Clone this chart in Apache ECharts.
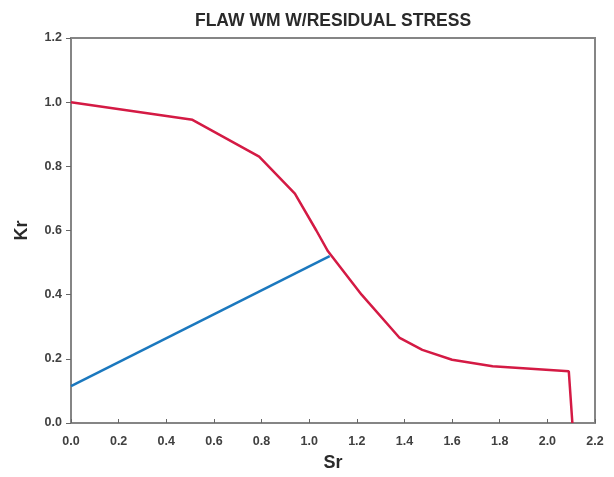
<!DOCTYPE html>
<html>
<head>
<meta charset="utf-8">
<script src="https://cdn.jsdelivr.net/npm/echarts@6/dist/echarts.min.js"></script>
<style>
    html, body { margin: 0; padding: 0; background: #fff; }
    #chart { width: 614px; height: 477px; }
</style>
</head>
<body>
<div id="chart"></div>
<script>
    // failure assessment curve (Sr, Kr)
    var curveSr = [0.0, 0.51, 0.79, 0.94, 1.03, 1.079, 1.22, 1.38, 1.475, 1.60, 1.77, 2.09, 2.105];
    var curveKr = [1.0, 0.945, 0.83, 0.715, 0.60, 0.535, 0.40, 0.265, 0.228, 0.197, 0.177, 0.161, 0.0];

    // load line
    var loadSr = [0.0, 1.086];
    var loadKr = [0.115, 0.52];

    var titleText = 'FLAW WM W/RESIDUAL STRESS';

    function pairs(xs, ys) {
        var out = [];
        xs.forEach(function (x, i) { out.push([x, ys[i]]); });
        return out;
    }

    var chart = echarts.init(document.getElementById('chart'));
    var axisFont = { color: '#404040', fontFamily: 'Liberation Sans', fontWeight: 'bold', fontSize: 12.5 };
    var nameFont = { fontFamily: 'Liberation Sans', fontWeight: 'bold', fontSize: 18, color: '#2a2a2a' };

    chart.setOption({
        animation: false,
        title: {
            text: titleText,
            left: 328,
            top: 7,
            textAlign: 'center',
            textStyle: { fontFamily: 'Liberation Sans', fontWeight: 'bold', fontSize: 17.5, color: '#2a2a2a' }
        },
        grid: {
            left: 71, right: 19, top: 38, bottom: 53,
            show: true,
            borderColor: '#858585',
            borderWidth: 2
        },
        xAxis: {
            type: 'value',
            min: 0, max: 2.2, interval: 0.2,
            name: 'Sr',
            nameLocation: 'middle',
            nameGap: 31,
            nameTextStyle: nameFont,
            axisLine: { lineStyle: { color: '#858585', width: 2 } },
            axisTick: { inside: true, length: 4, lineStyle: { color: '#666' } },
            splitLine: { show: false },
            axisLabel: Object.assign({ margin: 12, formatter: function (v) { return v.toFixed(1); } }, axisFont)
        },
        yAxis: {
            type: 'value',
            min: 0, max: 1.2, interval: 0.2,
            name: 'Kr',
            nameLocation: 'middle',
            nameGap: 40,
            nameRotate: 90,
            nameTextStyle: nameFont,
            axisLine: { lineStyle: { color: '#858585', width: 2 } },
            axisTick: { length: 5, lineStyle: { color: '#666' } },
            splitLine: { show: false },
            axisLabel: Object.assign({ margin: 9, formatter: function (v) { return v.toFixed(1); } }, axisFont)
        },
        series: [
            {
                type: 'line',
                data: pairs(curveSr, curveKr),
                showSymbol: false,
                lineStyle: { color: '#d41a44', width: 2.5 }
            },
            {
                type: 'line',
                data: pairs(loadSr, loadKr),
                showSymbol: false,
                lineStyle: { color: '#1b78be', width: 2.5 }
            }
        ]
    });
</script>
</body>
</html>
